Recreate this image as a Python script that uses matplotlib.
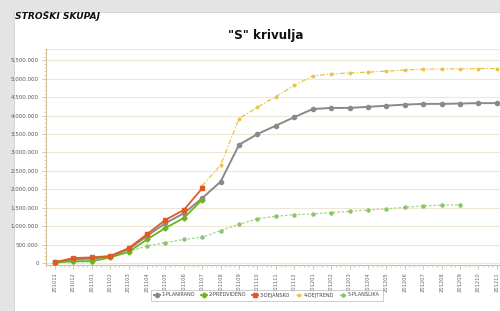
import matplotlib
matplotlib.use("Agg")
import matplotlib.pyplot as plt
from matplotlib.patches import Rectangle
from matplotlib.ticker import FuncFormatter, MultipleLocator
import numpy as np

categories = ["201011", "201012", "201101", "201102", "201103", "201104", "201105",
              "201106", "201107", "201108", "201109", "201110", "201111", "201112",
              "201201", "201202", "201203", "201204", "201205", "201206", "201207",
              "201208", "201209", "201210", "201211"]

planirano = [20000, 100000, 117000, 172000, 372000, 734000, 1080000, 1350000, 1760000,
             2210000, 3210000, 3500000, 3730000, 3960000, 4180000, 4210000, 4210000,
             4240000, 4270000, 4300000, 4320000, 4320000, 4330000, 4340000, 4340000]
predvideno = [10000, 50000, 50000, 150000, 300000, 640000, 950000, 1220000, 1720000]
dejansko = [20000, 135000, 150000, 190000, 400000, 780000, 1170000, 1440000, 2030000]
dejtrend = [None] * 8 + [2100000, 2660000, 3920000, 4230000, 4520000, 4820000, 5080000,
                         5130000, 5160000, 5180000, 5210000, 5240000, 5260000, 5270000,
                         5270000, 5280000, 5280000]
planslika = [10000, 25000, 30000, 150000, 310000, 460000, 550000, 640000, 700000,
             880000, 1050000, 1200000, 1270000, 1310000, 1330000, 1370000, 1400000,
             1440000, 1470000, 1510000, 1550000, 1570000, 1580000]

W, H = 500, 311
fig = plt.figure(figsize=(W / 100, H / 100), dpi=100)
fig.patch.set_facecolor("#e4e4e4")
fig.patches.append(Rectangle((14 / W, 0), 1, 1 - 12 / H, transform=fig.transFigure,
                             facecolor="white", edgecolor="#b0b0b0", lw=0.6,
                             linestyle=(0, (1, 1)), zorder=-10))

fig.text(15 / W, 1 - 16 / H, "STROŠKI SKUPAJ", fontsize=6.6, fontweight="bold",
         fontstyle="italic", ha="left", va="center", color="#111111")
fig.text(266 / W, 1 - 36 / H, '"S" krivulja', fontsize=8.6, fontweight="bold",
         ha="center", va="center", color="#111111")

n = len(categories)
x0_px, dx_px = 55, 18.6
left_px = x0_px - 0.5 * dx_px
right_px = x0_px + (n - 0.5) * dx_px
top_px, bot_px = 49, 265
ax = fig.add_axes([left_px / W, 1 - bot_px / H, (right_px - left_px) / W, (bot_px - top_px) / H])
ax.set_zorder(1)
ax.patch.set_alpha(0)
ax.set_xlim(-0.5, n - 0.5)
ax.set_ylim(-55000, 5810000)

x = np.arange(n)

def xs(arr):
    return np.arange(len(arr))

ax.plot(xs(planirano), planirano, color="#8a8a8a", lw=1.4, marker="o", ms=3,
        label="1-PLANIRANO", zorder=4)
ax.plot(xs(predvideno), predvideno, color="#6fb320", lw=1.3, marker="D", ms=2.6,
        label="2-PREDVIDENO", zorder=5)
ax.plot(xs(dejansko), dejansko, color="#e05a28", lw=1.3, marker="s", ms=3,
        label="3-DEJANSKO", zorder=6)
dt = np.array([np.nan if v is None else v for v in dejtrend], dtype=float)
ax.plot(xs(dejtrend), dt, color="#e8c44a", lw=0.9, linestyle=(0, (4, 1.5, 1, 1.5)),
        marker="o", ms=1.8, label="4-DEJTREND", zorder=3)
ax.plot(xs(planslika), planslika, color="#a6d484", lw=0.9, linestyle=(0, (2, 1.5)),
        marker="o", ms=2.2, mfc="#8cc46a", mec="#8cc46a", label="5-PLANSLIKA", zorder=3)

ax.yaxis.set_major_locator(MultipleLocator(500000))
ax.yaxis.set_minor_locator(MultipleLocator(100000))
ax.yaxis.set_major_formatter(FuncFormatter(lambda v, p: f"{int(v):,}".replace(",", ".")))
ax.set_xticks(x)
ax.set_xticks(np.arange(-0.5, n, 0.25), minor=True)
ax.set_xticklabels(categories, rotation=90, fontsize=3.7, color="#666666")
ax.tick_params(axis="y", labelsize=4.0, labelcolor="#555555", colors="#c8b48c",
               length=3, width=0.5, pad=2)
ax.tick_params(axis="y", which="minor", length=1.5, width=0.4, colors="#c8b48c")
ax.tick_params(axis="x", colors="#c8b48c", length=3, width=0.5, pad=2, labelcolor="#666666")
ax.tick_params(axis="x", which="minor", length=1.5, width=0.4, colors="#c8b48c")
ax.grid(axis="y", which="major", color="#f0e6d6", lw=0.8)
ax.set_axisbelow(True)
for s in ["top", "right"]:
    ax.spines[s].set_visible(False)
for s in ["left", "bottom"]:
    ax.spines[s].set_color("#d2bf96")
    ax.spines[s].set_linewidth(0.8)
ax.axhline(5810000, color="#f0e6d6", lw=0.8, zorder=0)

leg = ax.legend(loc="upper left", bbox_to_anchor=(148 / W, 1 - 287 / H), bbox_transform=fig.transFigure,
                ncol=5, fontsize=3.6, frameon=True, handlelength=1.3, handletextpad=0.4,
                columnspacing=1.0, borderpad=0.6, fancybox=False, shadow=False)
leg.get_frame().set_edgecolor("#b8b8b8")
leg.get_frame().set_linewidth(0.6)
for t in leg.get_texts():
    t.set_color("#444444")

fig.savefig("out.png", dpi=100)
